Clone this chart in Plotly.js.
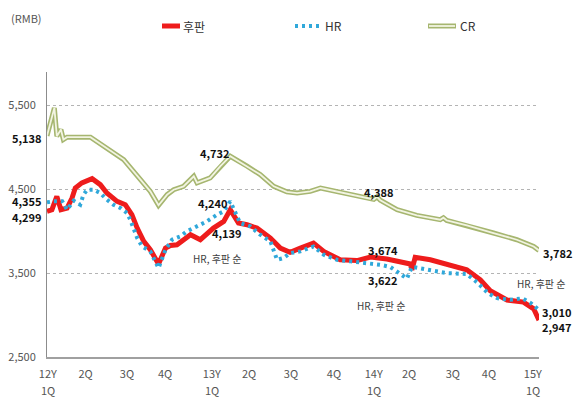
<!DOCTYPE html>
<html><head><meta charset="utf-8">
<script src="https://cdn.plot.ly/plotly-3.0.1.min.js"></script>
<style>html,body{margin:0;padding:0;background:#fff;}#chart{width:573px;height:401px;}</style>
</head><body><div id="chart"></div>
<script>
// ---- data (x in quarters since 2012 1Q) ----
const tickPos    = [0.02, 0.94, 1.95, 2.88, 4.02, 4.93, 5.95, 7.0, 7.97, 8.83, 9.9, 10.78, 11.85];
const tickLabels = ["12Y","2Q","3Q","4Q","13Y","2Q","3Q","4Q","14Y","2Q","3Q","4Q","15Y"];
const tickSub    = ["1Q","","","","1Q","","","","1Q","","","","1Q"];

const plateX = [0,0.12,0.24,0.34,0.49,0.61,0.69,0.85,1.10,1.30,1.46,1.71,1.91,2.07,2.20,2.36,2.52,2.72,2.89,3.01,3.17,3.50,3.74,4.06,4.31,4.47,4.67,4.88,5.12,5.45,5.69,5.93,6.18,6.50,6.75,7.15,7.56,7.89,8.29,8.54,8.86,8.90,8.98,9.35,9.76,10.24,10.57,10.81,11.22,11.62,11.87,12.0];
const plateY = [4238,4257,4416,4257,4277,4397,4516,4577,4628,4556,4456,4357,4317,4198,4038,3879,3780,3610,3799,3830,3839,3959,3899,4038,4118,4257,4098,4078,4038,3919,3799,3750,3799,3859,3760,3660,3650,3693,3669,3641,3610,3541,3690,3660,3610,3541,3421,3290,3180,3155,3075,2940];

const hrX = [0,0.16,0.37,0.49,0.65,0.81,0.89,0.98,1.14,1.30,1.46,1.62,1.79,1.95,2.03,2.20,2.32,2.52,2.72,2.89,3.05,3.25,3.41,3.66,3.90,4.15,4.31,4.47,4.59,4.71,4.96,5.20,5.45,5.61,5.77,5.93,6.18,6.50,6.75,7.07,7.40,7.72,8.13,8.37,8.70,8.78,8.90,9.19,9.76,10.24,10.49,10.76,10.98,11.30,11.59,11.80,12.0];
const hrY = [4345,4357,4357,4257,4365,4317,4437,4496,4496,4456,4377,4317,4277,4218,4138,3919,3819,3760,3561,3780,3899,3939,3999,4058,4118,4198,4238,4357,4218,4098,4058,3959,3879,3660,3681,3740,3760,3819,3720,3660,3641,3625,3600,3575,3470,3435,3575,3550,3500,3490,3390,3260,3202,3182,3200,3143,3060];

const crX = [0,0.18,0.24,0.34,0.40,0.49,1.06,1.46,1.87,2.28,2.52,2.72,2.93,3.09,3.33,3.58,3.66,3.98,4.23,4.47,4.88,5.20,5.53,5.85,6.10,6.42,6.67,7.07,7.48,7.97,8.05,8.13,8.54,8.86,9.02,9.59,9.67,9.75,10.24,10.89,11.46,11.87,12.0];
const crY = [5138,5472,5134,5213,5094,5122,5122,4995,4855,4616,4476,4310,4437,4496,4536,4656,4577,4637,4776,4895,4776,4676,4536,4470,4456,4476,4516,4476,4430,4380,4410,4370,4257,4210,4190,4138,4162,4130,4070,3979,3899,3819,3771];

const yTicks = [2500,3500,4500,5500];
const yTickText = ["2,500","3,500","4,500","5,500"];

// ---- layout helpers (pixel -> paper) ----
const L=47, R=539, T=72, B=357;
const px = x => (x-L)/(R-L);
const py = y => (B-y)/(B-T);

const FONT = "'Noto Sans CJK KR', 'Noto Sans', sans-serif";
const RED = '#ee1c1c', BLUE = '#30a8da', OLIVE = '#a6b670', CREAM = '#f2f4e2';

const traces = [
  {x: crX, y: crY, mode:'lines', line:{color:OLIVE, width:5}, hoverinfo:'skip', showlegend:false},
  {x: crX, y: crY, mode:'lines', line:{color:CREAM, width:1.8}, hoverinfo:'skip', showlegend:false},
  {x: plateX, y: plateY, mode:'lines', line:{color:RED, width:5}, showlegend:false},
  {x: hrX, y: hrY, mode:'lines', line:{color:BLUE, width:4, dash:'3px,4px'}, showlegend:false}
];

function bold(text, x, y, anchor){
  return {text:text, x:px(x), y:py(y), xref:'paper', yref:'paper', showarrow:false,
    xanchor:anchor||'center', yanchor:'middle', font:{family:FONT, size:11, color:'#111', weight:700}};
}
function note(text, x, y){
  return {text:text, x:px(x), y:py(y), xref:'paper', yref:'paper', showarrow:false,
    xanchor:'center', yanchor:'middle', font:{family:FONT, size:10, color:'#404040'}};
}
function legText(text, x, y){
  return {text:text, x:px(x), y:py(y), xref:'paper', yref:'paper', showarrow:false,
    xanchor:'left', yanchor:'middle', font:{family:FONT, size:12, color:'#333'}};
}

const annotations = [
  {text:'(RMB)', x:px(9), y:py(18), xref:'paper', yref:'paper', showarrow:false, xanchor:'left', yanchor:'middle', font:{family:FONT, size:11, color:'#555'}},
  legText('후판', 181, 27), legText('HR', 323, 26), legText('CR', 458, 26),
  bold('5,138', 44, 138, 'right'), bold('4,355', 44, 201, 'right'), bold('4,299', 44, 217, 'right'),
  bold('4,732', 215, 153), bold('4,240', 213, 203), bold('4,139', 227, 233),
  bold('4,388', 379, 192), bold('3,674', 383, 250), bold('3,622', 383, 280),
  bold('3,782', 541, 253, 'left'), bold('3,010', 540, 312, 'left'), bold('2,947', 540, 327, 'left'),
  note('HR, 후판 순', 217, 258), note('HR, 후판 순', 381, 305), note('HR, 후판 순', 541, 283)
];
// second row of x tick labels
tickPos.forEach((p, i) => {
  if (tickSub[i]) annotations.push({text:tickSub[i], x:p, xref:'x', y:py(390), yref:'paper', showarrow:false,
    xanchor:'center', yanchor:'middle', font:{family:FONT, size:11, color:'#555'}});
});

const shapes = [
  // legend swatches
  {type:'line', xref:'paper', yref:'paper', x0:px(162), x1:px(180), y0:py(26), y1:py(26), line:{color:RED, width:5}},
  {type:'line', xref:'paper', yref:'paper', x0:px(295), x1:px(321), y0:py(26), y1:py(26), line:{color:BLUE, width:4, dash:'3px,4px'}},
  {type:'line', xref:'paper', yref:'paper', x0:px(428), x1:px(456), y0:py(26), y1:py(26), line:{color:OLIVE, width:5}},
  {type:'line', xref:'paper', yref:'paper', x0:px(429), x1:px(455), y0:py(26), y1:py(26), line:{color:CREAM, width:1.8}},
  // grid gaps behind note boxes
  {type:'rect', xref:'paper', yref:'paper', layer:'between', x0:px(190), x1:px(250), y0:py(268), y1:py(280), fillcolor:'#fff', line:{width:0}},
  {type:'rect', xref:'paper', yref:'paper', layer:'between', x0:px(513), x1:px(541), y0:py(268), y1:py(280), fillcolor:'#fff', line:{width:0}}
];

const layout = {
  width:573, height:401,
  margin:{l:L, r:573-R, t:T, b:401-B, pad:0},
  paper_bgcolor:'#fff', plot_bgcolor:'#fff',
  showlegend:false,
  font:{family:FONT, color:'#555'},
  xaxis:{range:[0,12], tickvals:tickPos, ticktext:tickLabels, showgrid:false, zeroline:false,
    showline:true, linecolor:'#a0a0a0', linewidth:2, ticks:'outside', ticklen:6, tickcolor:'rgba(0,0,0,0)',
    tickfont:{family:FONT, size:11, color:'#555'}, fixedrange:true},
  yaxis:{range:[2500,5900], tickvals:yTicks, ticktext:yTickText, showgrid:true, gridcolor:'#b4b4b4', griddash:'dot', gridwidth:1,
    zeroline:false, showline:true, linecolor:'#8c8c8c', linewidth:1, ticks:'outside', ticklen:8, tickcolor:'rgba(0,0,0,0)',
    tickfont:{family:FONT, size:11, color:'#555'}, fixedrange:true},
  annotations: annotations,
  shapes: shapes
};

Plotly.newPlot('chart', traces, layout, {displayModeBar:false, staticPlot:true});
</script></body></html>
